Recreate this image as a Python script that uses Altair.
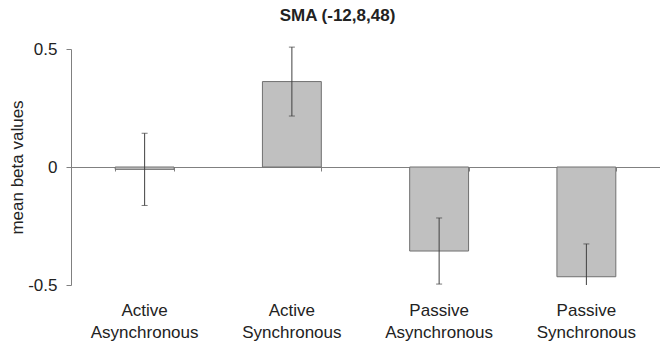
import altair as alt
import pandas as pd

# Condition means and error half-widths (mean beta values, SMA ROI)
conditions = ["Active Asynchronous", "Active Synchronous",
              "Passive Asynchronous", "Passive Synchronous"]
means = [-0.01, 0.362, -0.356, -0.465]
errors = [0.153, 0.146, 0.140, 0.139]
y_ticks = [-0.5, 0, 0.5]
y_min, y_max = -0.5, 0.5

df = pd.DataFrame({"cond": conditions, "mean": means, "err": errors})

FONT = "Liberation Sans"
TEXT = "#222222"
GREY = "#808080"
W, H = 589, 236

x_scale = alt.Scale(domain=conditions, paddingInner=0.6, paddingOuter=0.3)
y_scale = alt.Scale(domain=[y_min, y_max], nice=False)
y_axis = alt.Axis(values=y_ticks, labelExpr="'' + datum.value",
                  title="mean beta values", titleFont=FONT,
                  titleFontSize=17, titleFontWeight="normal",
                  titleColor=TEXT, titlePadding=1,
                  labelFont=FONT, labelFontSize=17, labelColor=TEXT,
                  labelPadding=9, tickSize=5, tickColor=GREY,
                  domainColor=GREY, grid=False)

base = alt.Chart(df).transform_calculate(
    hi="datum.mean + datum.err",
    lo_raw="datum.mean - datum.err",
).transform_calculate(
    lo=f"max(datum.lo_raw, {y_min})"
)

bars = base.mark_bar(fill="#c0c0c0", stroke="#707070", strokeWidth=1).encode(
    x=alt.X("cond:N", sort=conditions, scale=x_scale,
            axis=alt.Axis(orient="bottom", title=None, labelAngle=0,
                          domain=False, ticks=False, grid=False,
                          labelExpr="split(datum.label, ' ')",
                          labelFont=FONT, labelFontSize=17, labelColor=TEXT,
                          labelLineHeight=22, labelPadding=17)),
    y=alt.Y("mean:Q", scale=y_scale, axis=y_axis, title="mean beta values"),
)

# zero line with category-boundary ticks, drawn as an axis crossing at y = 0
whisker = base.mark_rule(color="#404040", strokeWidth=1).encode(
    x=alt.X("cond:N", sort=conditions, scale=x_scale,
            axis=alt.Axis(orient="bottom", title=None, labels=False,
                          offset=-H / 2, domain=True, domainColor=GREY,
                          ticks=True, tickBand="extent", tickSize=4,
                          tickColor=GREY, grid=False)),
    y=alt.Y("lo:Q", scale=y_scale, axis=y_axis, title="mean beta values"),
    y2="hi:Q",
)

cap_hi = base.mark_tick(color="#404040", orient="horizontal", size=6,
                        thickness=1).encode(
    x=alt.X("cond:N", sort=conditions, scale=x_scale, axis=None),
    y=alt.Y("hi:Q", scale=y_scale, axis=y_axis, title="mean beta values"),
)

cap_lo = base.transform_filter(f"datum.lo_raw >= {y_min}").mark_tick(
    color="#404040", orient="horizontal", size=6, thickness=1).encode(
    x=alt.X("cond:N", sort=conditions, scale=x_scale, axis=None),
    y=alt.Y("lo:Q", scale=y_scale, axis=y_axis, title="mean beta values"),
)

chart = alt.layer(bars, whisker, cap_hi, cap_lo).resolve_axis(
    x="independent"
).properties(
    width=W,
    height=H,
    title=alt.TitleParams("SMA (-12,8,48)", font=FONT, fontSize=17,
                          fontWeight="bold", color=TEXT, anchor="middle",
                          dx=-28, offset=2, frame="group",
                          baseline="alphabetic"),
    padding={"left": 71, "top": 49, "right": 0, "bottom": 66},
    autosize=alt.AutoSizeParams(type="none"),
    background="white",
).configure_view(stroke=None)

chart.save("out.html", embed_options={"renderer": "svg", "actions": False})
